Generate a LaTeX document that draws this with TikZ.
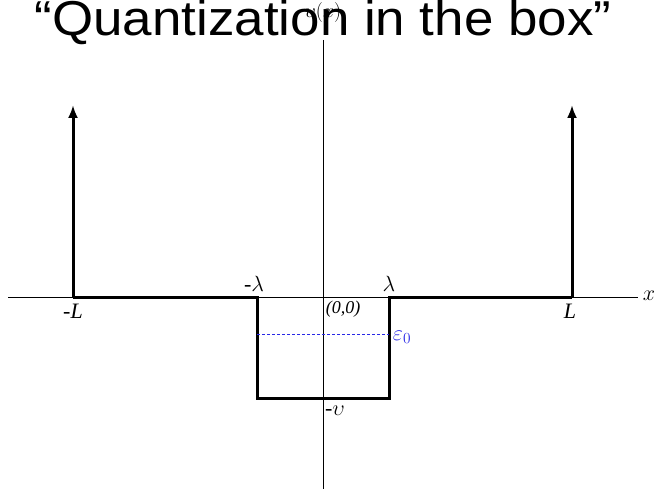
\documentclass[tikz,border=0pt]{standalone}
\usepackage{fontspec}
\usepackage{fix-cm}
\setmainfont{Liberation Serif}
\newfontfamily\titlefont{Liberation Sans}
\usetikzlibrary{arrows.meta}
\definecolor{levelblue}{RGB}{40,40,230}
\begin{document}
\begin{tikzpicture}[x=1pt,y=-1pt,
  axis/.style={line width=1pt,black},
  thick line/.style={line width=3pt,black,line join=miter},
  wall/.style={line width=3pt,black,-{Latex[length=13pt,width=10pt]}},
  lbl/.style={font=\fontsize{22}{22}\selectfont,inner sep=0pt}]
\useasboundingbox (0,0) rectangle (658,489);
% title
\node[inner sep=0pt,anchor=base,xscale=1.08,font=\titlefont\fontsize{49}{49}\selectfont] (title) at (323,36) {“Quantization in the box”};
% axes
\coordinate (xl) at (8,297);
\coordinate (xr) at (638,297);
\coordinate (yt) at (323,40);
\coordinate (yb) at (323,489);
\draw[axis] (xl) -- (xr);
\draw[axis] (yt) -- (yb);
% potential
\coordinate (mL) at (73,297);
\coordinate (ml) at (257,297);
\coordinate (mlb) at (257,398);
\coordinate (plb) at (389,398);
\coordinate (pl) at (389,297);
\coordinate (pL) at (572,297);
\coordinate (mLt) at (73,105);
\coordinate (pLt) at (572,105);
\draw[thick line] (mL) -- (ml) -- (mlb) -- (plb) -- (pl) -- (pL);
\draw[wall] (mL) -- (mLt);
\draw[wall] (pL) -- (pLt);
% energy level
\coordinate (e1) at (257,334);
\coordinate (e2) at (389,334);
\draw[levelblue,line width=1pt,dash pattern=on 3pt off 2pt] (e1) -- (e2);
% labels
\node[lbl] (lml) at (254,284) {-$\lambda$};
\node[lbl] (lpl) at (389,284) {$\lambda$};
\node[lbl,font=\fontsize{18}{18}\selectfont\itshape] (lorig) at (343,309) {(0,0)};
\node[lbl] (lmL) at (73,311) {-\textit{L}};
\node[lbl] (lpL) at (570,311) {\textit{L}};
\node[lbl] (lx) at (649,296) {$x$};
\node[lbl] (lmv) at (335,411) {-$\upsilon$};
\node[lbl,text=levelblue] (leps) at (402,337) {$\varepsilon_0$};
\node[lbl,font=\fontsize{20}{20}\selectfont] (lvx) at (323,13) {$\upsilon(x)$};
\end{tikzpicture}
\end{document}
